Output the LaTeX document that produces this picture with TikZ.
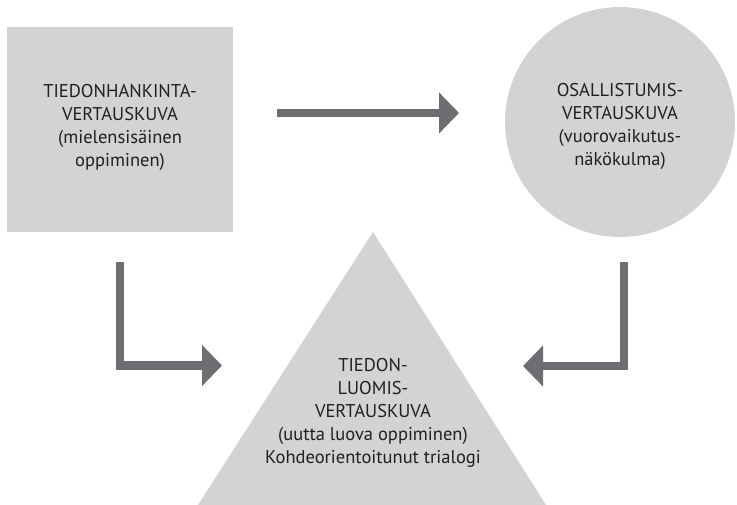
\documentclass[tikz,border=0pt]{standalone}
\usepackage{fontspec}
\setmainfont{PT Sans}
\usetikzlibrary{arrows.meta}
\definecolor{shapegray}{HTML}{D1D3D4}
\definecolor{arrowgray}{HTML}{6D6E71}
\definecolor{textgray}{HTML}{231F20}
\tikzset{
  shapetext/.style={align=center, text=textgray, font=\fontsize{18.5}{23}\selectfont, inner sep=0pt},
  flow/.style={draw=arrowgray, line width=8pt, -{Triangle[width=40pt,length=20pt]}}
}
\begin{document}
\begin{tikzpicture}[x=1pt,y=-1pt]
\useasboundingbox (0,0) rectangle (737,505);
% square
\node[fill=shapegray, minimum width=226pt, minimum height=205pt, inner sep=0pt] (sq) at (120,129.5) {};
\node[shapetext] (sqtext) at (120,127) {TIEDONHANKINTA-\\VERTAUSKUVA\\(mielensisäinen\\oppiminen)};
% circle
\node[circle, fill=shapegray, minimum size=230pt, inner sep=0pt] (ci) at (620,122) {};
\node[shapetext] (citext) at (620,126) {OSALLISTUMIS-\\VERTAUSKUVA\\(vuorovaikutus-\\näkökulma)};
% triangle
\fill[shapegray] (373,232) -- (546,505) -- (198,505) -- cycle;
\node[shapetext] (tri) at (373,413) {TIEDON-\\LUOMIS-\\VERTAUSKUVA\\(uutta luova oppiminen)\\Kohdeorientoitunut trialogi};
% arrows
\coordinate (a1s) at (277,113);
\coordinate (a1e) at (459,113);
\coordinate (a2s) at (120,262);
\coordinate (a2c) at (120,365.5);
\coordinate (a2e) at (222,365.5);
\coordinate (a3s) at (624,262);
\coordinate (a3c) at (624,366);
\coordinate (a3e) at (523,366);
\draw[flow] (a1s) -- (a1e);
\draw[flow] (a2s) -- (a2c) -- (a2e);
\draw[flow] (a3s) -- (a3c) -- (a3e);
\end{tikzpicture}
\end{document}
